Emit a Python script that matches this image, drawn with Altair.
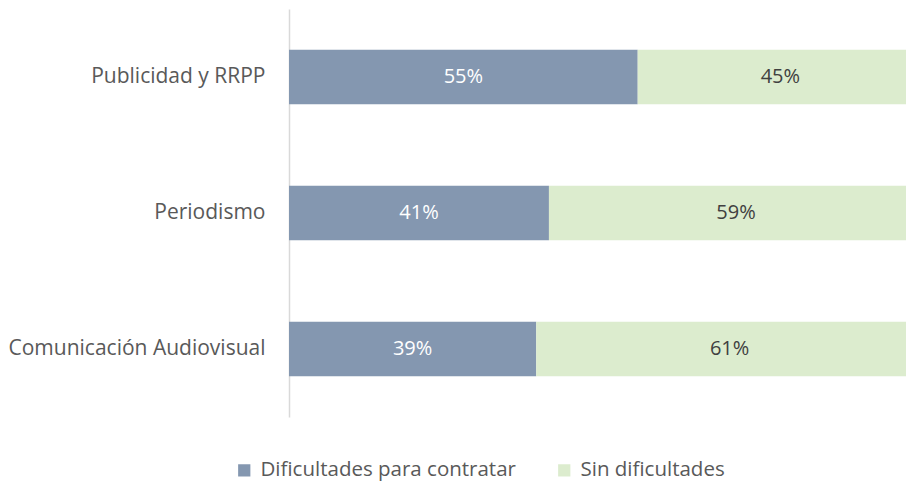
import altair as alt
import pandas as pd

categories = ["Publicidad y RRPP", "Periodismo", "Comunicación Audiovisual"]
dificultades = [0.55, 0.41, 0.39]
sin_dificultades = [0.45, 0.59, 0.61]
series = ["Dificultades para contratar", "Sin dificultades"]

rows = []
for c, a, b in zip(categories, dificultades, sin_dificultades):
    rows.append({"cat": c, "serie": series[0], "val": a, "ord": 0})
    rows.append({"cat": c, "serie": series[1], "val": b, "ord": 1})
df = pd.DataFrame(rows)

font = "Open Sans"

base = alt.Chart(df).transform_stack(
    stack="val", groupby=["cat"], as_=["x0", "x1"], sort=[alt.SortField("ord")]
).transform_calculate(
    mid="(datum.x0 + datum.x1) / 2"
)

y_enc = alt.Y(
    "cat:N",
    sort=categories,
    scale=alt.Scale(paddingInner=0.6, paddingOuter=0.3),
    axis=alt.Axis(
        title=None, ticks=False, domain=True, domainColor="#d9d9d9", domainWidth=1.5,
        labelFont=font, labelFontSize=21, labelColor="#595959", labelPadding=24,
        labelLimit=400,
    ),
)

bars = base.mark_bar().encode(
    y=y_enc,
    x=alt.X("x0:Q", scale=alt.Scale(domain=[0, 1], nice=False), axis=None),
    x2="x1:Q",
    fill=alt.Fill(
        "serie:N",
        scale=alt.Scale(domain=series, range=["#8497b0", "#dcecce"]),
        legend=alt.Legend(
            title=None, orient="none", legendX=-55, legendY=451,
            direction="horizontal", symbolType="square",
            symbolSize=150, symbolStrokeWidth=0, labelFont=font, labelFontSize=20.5,
            labelColor="#595959", columnPadding=38, labelOffset=6, labelLimit=400,
        ),
    ),
)

text = base.mark_text(font=font, fontSize=20).encode(
    y=alt.Y("cat:N", sort=categories),
    x=alt.X("mid:Q"),
    text=alt.Text("val:Q", format=".0%"),
    color=alt.Color("serie:N", scale=alt.Scale(domain=series, range=["#ffffff", "#404040"]), legend=None),
)

chart = alt.layer(bars, text).resolve_scale(color="independent").properties(
    width=634, height=408, autosize="none",
    padding={"left": 281, "top": 1, "right": -17, "bottom": 67},
).configure_view(stroke=None)

chart.save("out.html", embed_options={"renderer": "svg", "actions": False})
